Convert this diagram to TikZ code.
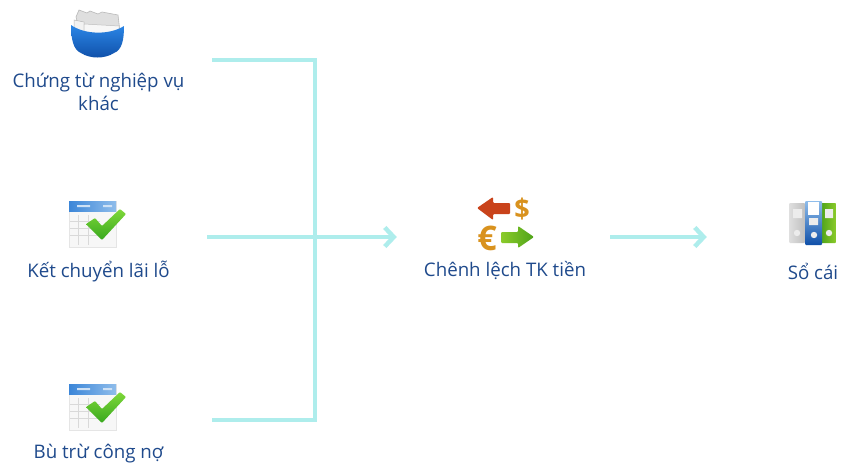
\documentclass[tikz,border=0pt]{standalone}
\usepackage{fontspec}
\setmainfont{Open Sans}
\usetikzlibrary{arrows.meta}
\definecolor{wire}{HTML}{AEEDEC}
\definecolor{lbl}{HTML}{1F4A8C}
\definecolor{gold}{HTML}{D9921E}
\definecolor{redarrow}{HTML}{C9431B}
\definecolor{grnA}{HTML}{8BCB2A}
\definecolor{grnB}{HTML}{4FA31A}
\definecolor{chkA}{HTML}{7FD83A}
\definecolor{chkB}{HTML}{38A81E}
\definecolor{hdrA}{HTML}{3C86D8}
\definecolor{hdrB}{HTML}{8FBDEB}
\definecolor{foldA}{HTML}{2B86E6}
\definecolor{foldB}{HTML}{0F4FA8}
\tikzset{
  wirepath/.style={draw=wire,line width=4pt,line join=miter},
  wirearrow/.style={wirepath,-{Straight Barb[length=9pt,width=19pt,line width=4.4pt]}},
  lblnode/.style={text=lbl,font=\fontsize{18.7pt}{23pt}\selectfont,align=center,inner sep=0pt},
  port/.style={inner sep=0pt,minimum height=1pt,draw=none},
  coin/.style={port,text=gold,font=\bfseries\fontsize{27pt}{27pt}\selectfont},
  bigcoin/.style={port,text=gold,font=\bfseries\fontsize{34pt}{34pt}\selectfont}
}
\begin{document}
\begin{tikzpicture}[x=1pt,y=-1pt]
\useasboundingbox[fill=white] (0,0) rectangle (841,466);
% folder icon
\fill[gray!25,draw=gray!55,line width=.6pt] (76,17) -- (79,10) -- (87,13) -- (90,11) -- (98,14) -- (102,12) -- (118,15) -- (120,32) -- (80,32) -- cycle;
\fill[gray!10,draw=gray!55,line width=.5pt] (74,20) -- (84,22) -- (84,34) -- (74,32) -- cycle;
\fill[gray!6,draw=gray!50,line width=.5pt] (84,24) -- (119,26) -- (119,33) -- (84,36) -- cycle;
\shade[top color=foldA,bottom color=foldB] (71,25) .. controls (85,35) and (110,35) .. (124,26) .. controls (124,40) and (122,50) .. (114,53) .. controls (105,59) and (90,59) .. (81,53) .. controls (73,50) and (71,38) .. (71,25) -- cycle;
% sheet-check icons
\foreach \oy in {0,183}{
\begin{scope}[yshift=-\oy pt]
\fill[gray!6,draw=gray!20,line width=.5pt] (69,201) rectangle (116,247);
\draw[gray!30,line width=.5pt] (70,221) -- (100,221) (70,228) -- (100,228) (70,235) -- (100,235) (78,215) -- (78,245) (88,215) -- (88,245);
\shade[left color=hdrA,right color=hdrB] (69,201) rectangle (116,211);
\fill[white!75!hdrA] (77,205) rectangle (90,207) (103,205) rectangle (112,207);
\shade[top color=chkA,bottom color=chkB,rounded corners=.8pt]
 (86,224) -- (95,218) -- (102,226) -- (120,209) -- (126,214) -- (102,240) -- cycle;
\end{scope}}
% currency icon
\fill[redarrow,rounded corners=1pt] (477,208) -- (493,197) -- (493,203) -- (510,203) -- (510,214) -- (493,214) -- (493,220) -- cycle;
\node[coin] (dollar) at (522,209) {\$};
\node[bigcoin] (euro) at (487,238) {€};
\shade[left color=grnA,right color=grnB,rounded corners=1pt] (501,232) -- (518,232) -- (518,226) -- (534,237) -- (518,248) -- (518,243) -- (501,243) -- cycle;
% binder icon
\shade[left color=gray!25,right color=gray!50,rounded corners=1pt] (789,203) rectangle (805,243);
\shade[left color=grnB,right color=grnA,rounded corners=1pt] (821,203) rectangle (836,243);
\shade[top color=hdrB,bottom color=foldB,rounded corners=1pt] (805,201) rectangle (822,245);
\fill[white] (808,202) rectangle (819,215);
\fill[white!85!gray] (793,209) rectangle (802,218) (809,218) rectangle (818,225) (825,209) rectangle (833,218);
\fill[white!85!gray] (797,233) circle (3.2pt) (814,235) circle (3.2pt) (829,233) circle (3.2pt);
% labels
\node[lblnode] (lblA) at (98.5,92) {Chứng từ nghiệp vụ\\khác};
\node[lblnode] (lblB) at (98.5,271) {Kết chuyển lãi lỗ};
\node[lblnode] (lblC) at (98.5,454) {Bù trừ công nợ};
\node[lblnode] (lblD) at (505,271) {Chênh lệch TK tiền};
\node[lblnode] (lblE) at (813,271) {Sổ cái};
% connector ports
\node[port,minimum width=228pt] (itemA) at (98,60) {};
\node[port,minimum width=218pt] (itemB) at (98,237) {};
\node[port,minimum width=228pt] (itemC) at (98,420) {};
\node[port,minimum width=213pt] (itemD) at (503.5,237) {};
\node[port,minimum width=212pt] (itemE) at (813,237) {};
\coordinate (busTop) at (315,60);
\coordinate (busBot) at (315,420);
% connectors
\draw[wirepath] (itemA.east) -- (busTop) -- (busBot) -- (itemC.east);
\draw[wirearrow] (itemB.east) -- (itemD.west);
\draw[wirearrow] (itemD.east) -- (itemE.west);
\end{tikzpicture}
\end{document}
